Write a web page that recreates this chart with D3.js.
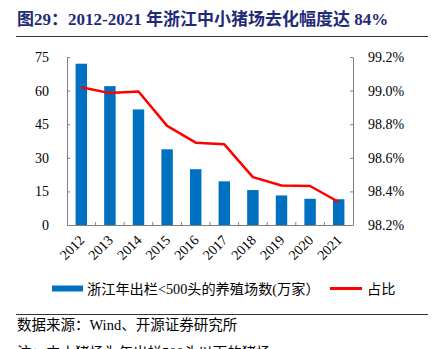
<!DOCTYPE html>
<html><head><meta charset="utf-8">
<script src="https://cdn.jsdelivr.net/npm/d3@7"></script>
<style>body{margin:0;background:#fff;overflow:hidden}</style>
</head><body>
<script>
const years = ["2012","2013","2014","2015","2016","2017","2018","2019","2020","2021"];
const farms = [72.0, 62.0, 51.6, 33.8, 24.9, 19.5, 15.6, 13.2, 11.7, 11.5];
const share = [99.02, 98.985, 98.995, 98.79, 98.69, 98.68, 98.485, 98.435, 98.432, 98.337];
const leftTicks = [0, 15, 30, 45, 60, 75];
const rightTicks = [98.2, 98.4, 98.6, 98.8, 99.0, 99.2];
const titleText = "图29：2012-2021 年浙江中小猪场去化幅度达 84%";
const legendBar = "浙江年出栏<500头的养殖场数(万家）";
const legendLine = "占比";
const sourceText = "数据来源：Wind、开源证券研究所";
const noteText = "注：中小猪场为年出栏500头以下的猪场";

const W = 433, H = 349;
const svg = d3.select("body").append("svg").attr("width", W).attr("height", H);
const serif = "'Liberation Serif','Times New Roman','Noto Sans CJK SC',serif";
const cjk = "'Liberation Serif','Noto Sans CJK SC',sans-serif";
const axisColor = "#808080";
const m = {l: 67, r: 353, t: 57, b: 225};

// title
svg.append("text").attr("x", 17).attr("y", 25).attr("fill", "#1F2A78")
  .attr("font-family", cjk).attr("font-weight", "bold").attr("font-size", 17).text(titleText);
svg.append("line").attr("x1", 16).attr("x2", 428).attr("y1", 36.5).attr("y2", 36.5)
  .attr("stroke", "#333").attr("stroke-width", 1);

const x = d3.scaleBand().domain(years).range([m.l, m.r]).paddingInner(0.6).paddingOuter(0.3);
const yL = d3.scaleLinear().domain([0, 75]).range([m.b, m.t]);
const yR = d3.scaleLinear().domain([98.2, 99.2]).range([m.b, m.t]);

// bars
svg.append("g").selectAll("rect").data(years).join("rect")
  .attr("x", d => x(d)).attr("width", x.bandwidth())
  .attr("y", (d, i) => yL(farms[i])).attr("height", (d, i) => yL(0) - yL(farms[i]))
  .attr("fill", "#0070C0");

// axes
const gL = svg.append("g").attr("transform", `translate(${m.l},0)`)
  .call(d3.axisLeft(yL).tickValues(leftTicks).tickSizeInner(-3).tickSizeOuter(0).tickPadding(18));
const gR = svg.append("g").attr("transform", `translate(${m.r},0)`)
  .call(d3.axisRight(yR).tickValues(rightTicks).tickSizeInner(-3).tickSizeOuter(0).tickPadding(15)
    .tickFormat(d => d3.format(".1f")(d) + "%"));
[gL, gR].forEach(g => {
  g.selectAll("path,line").attr("stroke", axisColor);
  g.selectAll("text").attr("font-family", serif).attr("font-size", 14).attr("fill", "#000");
});

// bottom axis with boundary ticks
const step = x.step();
const bounds = years.slice(0, -1).map(d => x(d) + x.bandwidth() / 2 + step / 2);
svg.append("line").attr("x1", m.l).attr("x2", m.r).attr("y1", m.b + 0.5).attr("y2", m.b + 0.5).attr("stroke", axisColor);
svg.append("g").selectAll("line").data(bounds).join("line")
  .attr("x1", d => d).attr("x2", d => d).attr("y1", m.b).attr("y2", m.b - 3).attr("stroke", axisColor);
svg.append("g").selectAll("text").data(years).join("text")
  .attr("transform", d => `translate(${x(d) + x.bandwidth() / 2 + 4},${m.b + 16}) rotate(-45)`)
  .attr("text-anchor", "end").attr("font-family", serif).attr("font-size", 14).text(d => d);

// line
const line = d3.line().x((d, i) => x(years[i]) + x.bandwidth() / 2).y(d => yR(d));
svg.append("path").datum(share).attr("d", line).attr("fill", "none")
  .attr("stroke", "#FF0000").attr("stroke-width", 2.5).attr("stroke-linejoin", "round");

// legend
svg.append("rect").attr("x", 52).attr("y", 285.5).attr("width", 31).attr("height", 6).attr("fill", "#0070C0");
svg.append("text").attr("x", 87).attr("y", 293.5).attr("font-family", cjk).attr("font-size", 14.2).text(legendBar);
svg.append("line").attr("x1", 330).attr("x2", 362).attr("y1", 288.5).attr("y2", 288.5).attr("stroke", "#FF0000").attr("stroke-width", 3);
svg.append("text").attr("x", 367).attr("y", 293.5).attr("font-family", cjk).attr("font-size", 14.2).text(legendLine);

// footer
svg.append("line").attr("x1", 16).attr("x2", 428).attr("y1", 314.5).attr("y2", 314.5).attr("stroke", "#333");
svg.append("text").attr("x", 17).attr("y", 330).attr("font-family", cjk).attr("font-size", 14.5).text(sourceText);
svg.append("text").attr("x", 17).attr("y", 358).attr("font-family", cjk).attr("font-size", 14.5).text(noteText);
</script>
</body></html>
